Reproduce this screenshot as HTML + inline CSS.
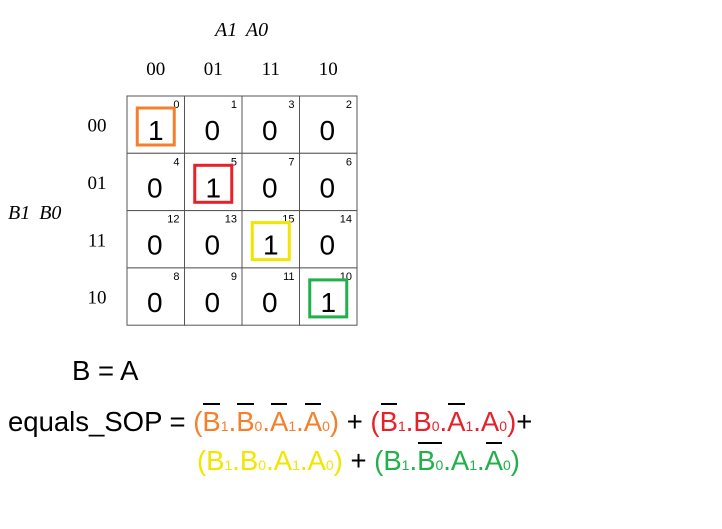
<!DOCTYPE html>
<html><head><meta charset="utf-8"><style>
body{margin:0;background:#fff;width:722px;height:529px;overflow:hidden;position:relative;font-family:"Liberation Sans",sans-serif}
.f{position:absolute;font-size:27.5px;white-space:nowrap;line-height:30px}
.o{color:#f57f2a}.r{color:#e8202a}.y{color:#f2e600}.g{color:#22b04b}
sub{font-size:14px;vertical-align:baseline}
.ov{position:relative;display:inline-block}
.ov::before{content:"";position:absolute;left:1px;right:1px;top:-4px;height:2px;background:#000}
</style></head><body>
<svg width="722" height="340" style="position:absolute;left:0;top:0" font-family="Liberation Serif,serif">
<text x="215" y="36" font-size="20" font-style="italic" word-spacing="4">A1 A0</text>
<text x="8" y="219" font-size="20" font-style="italic" word-spacing="4">B1 B0</text>
<g id="grid"></g>
</svg>
<div class="f" style="left:72px;top:356px">B = A</div>
<div class="f" style="left:8px;top:407px">equals_SOP = <span class="o">(<span class="ov">B</span><sub>1</sub>.<span class="ov">B</span><sub>0</sub>.<span class="ov">A</span><sub>1</sub>.<span class="ov">A</span><sub>0</sub>)</span> + <span class="r">(<span class="ov">B</span><sub>1</sub>.B<sub>0</sub>.<span class="ov">A</span><sub>1</sub>.A<sub>0</sub>)</span>+</div>
<div class="f" style="left:197px;top:446px"><span class="y">(B<sub>1</sub>.B<sub>0</sub>.A<sub>1</sub>.A<sub>0</sub>)</span> + <span class="g">(B<sub>1</sub>.<span class="ov">B<sub>0</sub></span>.A<sub>1</sub>.<span class="ov">A</span><sub>0</sub>)</span></div>
<script>
const colLabels=["00","01","11","10"];
const rowLabels=["00","01","11","10"];
const cellIndex=[[0,1,3,2],[4,5,7,6],[12,13,15,14],[8,9,11,10]];
const values=[[1,0,0,0],[0,1,0,0],[0,0,1,0],[0,0,0,1]];
const boxColors=["#f57f2a","#e8202a","#f2e600","#22b04b"];
const ns="http://www.w3.org/2000/svg";
const g=document.getElementById("grid");
const x0=127,y0=96,cw=57.5,ch=57.3;
function mk(t,a){const e=document.createElementNS(ns,t);for(const k in a)e.setAttribute(k,a[k]);g.appendChild(e);return e;}
colLabels.forEach((l,i)=>{const t=mk("text",{x:x0+cw*i+cw/2,y:75,"font-size":19,"text-anchor":"middle"});t.textContent=l;
});
rowLabels.forEach((l,i)=>{const t=mk("text",{x:97,y:y0+ch*i+ch/2+7,"font-size":19,"text-anchor":"middle"});t.textContent=l;
});
let k=0;
for(let r=0;r<4;r++)for(let c=0;c<4;c++){
 const x=x0+cw*c,y=y0+ch*r;
 const rc=mk("rect",{x:x,y:y,width:cw,height:ch,fill:"#fff",stroke:"#555","stroke-width":1});
 
 const n=mk("text",{x:x+cw-5,y:y+12,"font-size":11,"text-anchor":"end","font-family":"Liberation Sans,sans-serif"});n.textContent=cellIndex[r][c];
 
 const v=mk("text",{x:x+cw/2-(values[r][c]?0:1),y:y+44,"font-size":28,"text-anchor":"middle","font-family":"Liberation Sans,sans-serif"});v.textContent=values[r][c];
 
 if(values[r][c]===1){const b=mk("rect",{x:x+cw/2-18.5,y:y+12,width:37,height:37,fill:"none",stroke:boxColors[k],"stroke-width":3});
 k++;}
}
</script>
</body></html>
